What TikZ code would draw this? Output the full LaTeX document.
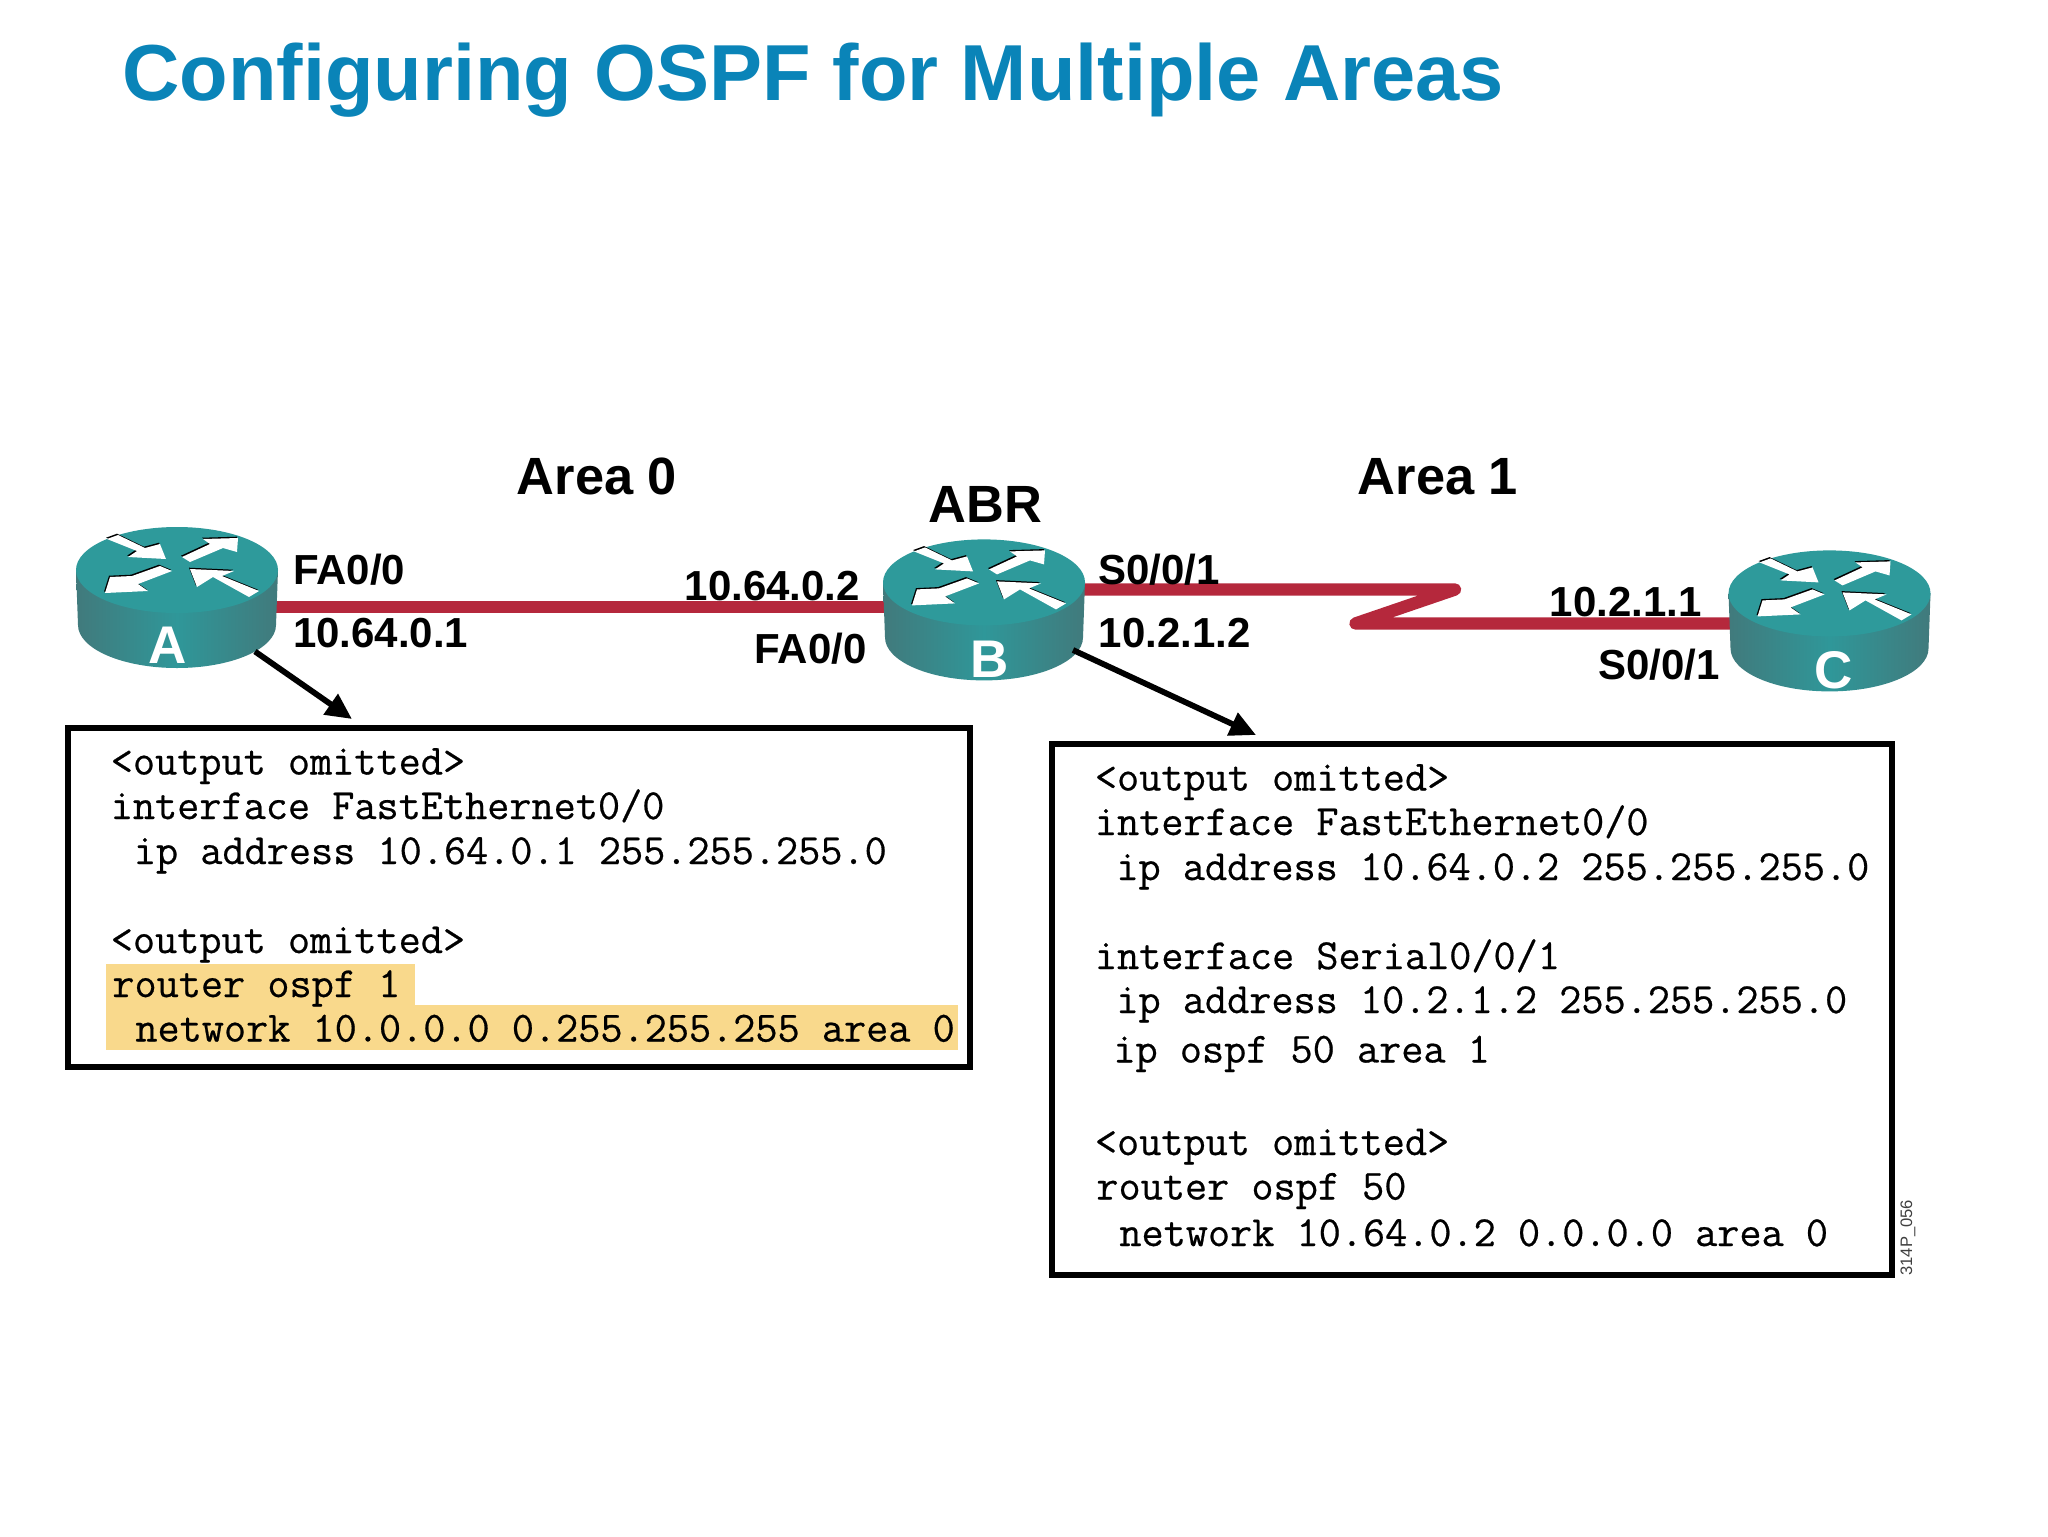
\documentclass[tikz,border=0pt]{standalone}
\usepackage{fontspec}
\setmainfont{Liberation Sans}
\setmonofont{Latin Modern Mono}[FakeBold=0.5]
\usetikzlibrary{arrows.meta}
\definecolor{rtop}{HTML}{2E9A9B}
\definecolor{rmid}{HTML}{2F9799}
\definecolor{redge}{HTML}{417A7C}
\definecolor{wire}{HTML}{B5283C}
\definecolor{titleblue}{HTML}{0A84B8}
\definecolor{hilite}{HTML}{F9D98C}
\tikzset{
  x=0.5pt,y=-0.5pt,
  rtr/.pic={
    \shade[left color=redge,right color=redge,middle color=rmid]
      (-101,0) -- (-99,55) arc[start angle=180,end angle=360,x radius=49.5pt,y radius=21.5pt] -- (101,0) -- cycle;
    \fill[rtop] (0,0) ellipse[x radius=50.5pt,y radius=21.5pt];
    \foreach \s/\c/\o in {black/-1/-1.3,white/0/0}{
      \begin{scope}[shift={(\c,\o)}]
      \fill[\s] (-70,-31) -- (-59,-35) -- (-32,-22) -- (-17,-26) -- (-11,-11) -- (-49,-13) -- (-40,-19) -- cycle;
      \fill[\s] (5,-13) -- (13,-8) -- (46,-22) -- (60,-18) -- (61,-32) -- (26,-31) -- (33,-26) -- cycle;
      \fill[\s] (-5,1) -- (-17,-4) -- (-45,6) -- (-67,7) -- (-72,23) -- (-29,21) -- (-39,14) -- cycle;
      \fill[\s] (13,-1) -- (57,1) -- (45,6) -- (82,21) -- (72,27) -- (36,7) -- (20,17) -- cycle;
      \end{scope}
    }
  },
  rnode/.style={minimum width=101pt,minimum height=20pt,inner sep=0pt,outer sep=0pt},
  wire/.style={draw=wire,line width=6.2pt},
  pointer/.style={line width=2.9pt,-{Triangle[length=13pt,width=12pt]}},
  cfgbox/.style={draw=black,line width=3pt,inner sep=0pt,outer sep=0pt},
  lbl/.style={anchor=base west,inner sep=0pt,font=\bfseries\fontsize{21}{25}\selectfont},
  big/.style={anchor=base west,inner sep=0pt,font=\bfseries\fontsize{26.2}{30}\selectfont},
  rlet/.style={anchor=base,inner sep=0pt,text=white,font=\bfseries\fontsize{26.5}{30}\selectfont},
  code/.style={anchor=base west,inner sep=0pt,font=\ttfamily\fontsize{21.5}{25}\selectfont},
}
\begin{document}
\begin{tikzpicture}
\useasboundingbox (0,0) rectangle (2048,1536);
\fill[white] (0,0) rectangle (2048,1536);
\node[anchor=base west,inner sep=0pt,text=titleblue,font=\bfseries\fontsize{39.72}{44}\selectfont] (title) at (122,101) {Configuring OSPF for Multiple Areas};
% router anchors
\node[rnode] (rA) at (177,607) {};
\node[rnode] (rB) at (984,607) {};
\node[rnode] (rC) at (1829.5,623.5) {};
\coordinate (sB) at (984,589.5);
\coordinate (z1) at (1455,589.5);
\coordinate (z2) at (1355.5,623.5);
\draw[wire] (rA.center) -- (rB.center);
\draw[wire,line join=round,line cap=round] (sB) -- (z1) -- (z2) -- (rC.center);
% routers
\pic at (177,570) {rtr};
\pic at (984,582.4) {rtr};
\pic at (1829.5,593.4) {rtr};
\node[rlet] (la) at (168,663) {A};
\node[rlet] (lb) at (990,677) {B};
\node[rlet] (lc) at (1834,688) {C};
% labels
\node[big] (area0) at (516.4,494.4) {Area 0};
\node[big] (area1) at (1357.5,494.4) {Area 1};
\node[big] (abr) at (928,522) {ABR};
\node[lbl] (t1) at (292.7,584) {FA0/0};
\node[lbl] (t2) at (292.7,647) {10.64.0.1};
\node[lbl] (t3) at (684.4,600) {10.64.0.2};
\node[lbl] (t4) at (754,663) {FA0/0};
\node[lbl] (t5) at (1098,584) {S0/0/1};
\node[lbl] (t6) at (1098.5,647) {10.2.1.2};
\node[lbl] (t7) at (1549.5,616) {10.2.1.1};
\node[lbl] (t8) at (1598,679) {S0/0/1};
% box A
\fill[hilite] (106,964) rectangle (415,1007);
\fill[hilite] (106,1005) rectangle (958,1050);
\node[cfgbox,minimum width=451.25pt,minimum height=169.75pt] (boxA) at (518.75,897.25) {};
\node[code] (a1) at (110.4,774.5) {<output omitted>};
\node[code] (a2) at (110.4,819) {interface FastEthernet0/0};
\node[code] (a3) at (133.5,864) {ip address 10.64.0.1 255.255.255.0};
\node[code] (a4) at (110.4,953) {<output omitted>};
\node[code] (a5) at (112,997) {router ospf 1};
\node[code] (a6) at (135,1041.5) {network 10.0.0.0 0.255.255.255 area 0};
% box B
\node[cfgbox,minimum width=419.75pt,minimum height=265.75pt] (boxB) at (1471.75,1009.25) {};
\node[code] (b1) at (1094.5,790.5) {<output omitted>};
\node[code] (b2) at (1094.5,835) {interface FastEthernet0/0};
\node[code] (b3) at (1116,880) {ip address 10.64.0.2 255.255.255.0};
\node[code] (b4) at (1094.5,969) {interface Serial0/0/1};
\node[code] (b5) at (1116,1013) {ip address 10.2.1.2 255.255.255.0};
\node[code] (b6) at (1113,1062.5) {ip ospf 50 area 1};
\node[code] (b7) at (1094.5,1155) {<output omitted>};
\node[code] (b8) at (1096,1199.5) {router ospf 50};
\node[code] (b9) at (1119,1246) {network 10.64.0.2 0.0.0.0 area 0};
% pointers
\coordinate (pa0) at (255,651.5);
\coordinate (pa1) at (352,719);
\coordinate (pb0) at (1073,650);
\coordinate (pb1) at (1256,735);
\draw[pointer] (pa0) -- (pa1);
\draw[pointer] (pb0) -- (pb1);
\node[anchor=base west,rotate=90,inner sep=0pt,text=black!75,font=\fontsize{8.3}{10}\selectfont] (tag) at (1912,1276) {314P\_056};
\end{tikzpicture}
\end{document}
